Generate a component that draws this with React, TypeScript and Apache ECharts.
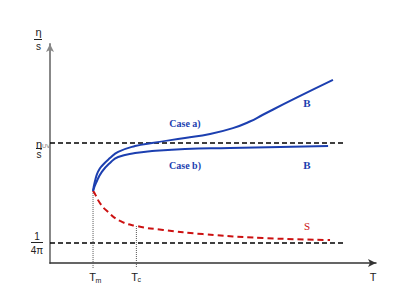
import React, { useEffect, useRef } from "react";
import * as echarts from "echarts";

// Abstract units: T from 0 to 100 (x), eta/s from 0 to 100 (y)
const Tm = 13.2;
const Tc = 26.5;
const etaUV = 54.8;
const kss = 9.1;
const lineEnd = 90.5;

const caseA: number[][] = [
  [13.2, 32.9], [13.8, 37.4], [14.7, 41.6], [15.9, 44.3], [18.4, 47.9],
  [20.9, 50.7], [26.1, 53.4], [31.3, 54.8], [41.4, 57.1], [49.1, 58.9],
  [56.1, 61.6], [61.3, 64.6], [65.3, 67.7], [75.8, 75.6], [86.8, 83.6],
];
const caseB: number[][] = [
  [13.2, 32.9], [14.1, 36.5], [15.9, 41.6], [18.4, 45.7], [20.9, 48.4],
  [26.1, 50.2], [31.3, 51.1], [41.4, 52.1], [55.2, 52.5], [70.6, 53.0],
  [85.3, 53.4],
];
const sCurve: number[][] = [
  [13.2, 32.9], [13.8, 31.5], [15.3, 27.4], [17.5, 23.7], [21.5, 19.2],
  [26.5, 16.9], [34.7, 15.1], [46.9, 13.2], [65.3, 11.4], [85.9, 10.5],
];

const BLUE = "#1c3fb0";
const RED = "#cc1111";
const INK = "#222222";
const SANS = "Liberation Sans, Arial, sans-serif";
const SERIF = "Liberation Serif, Times New Roman, serif";

export default function App() {
  const ref = useRef<HTMLDivElement>(null);
  useEffect(() => {
    if (!ref.current) return;
    const chart = echarts.init(ref.current, null, { renderer: "svg" });
    const txt = (text: string, x: number, y: number, font: string, fill: string, align = "center") => ({
      type: "text",
      x,
      y,
      silent: true,
      style: { text, font, fill, align, verticalAlign: "middle" },
      z: 10,
    });
    const bar = (x1: number, x2: number, y: number) => ({
      type: "line",
      silent: true,
      shape: { x1, y1: y, x2, y2: y },
      style: { stroke: INK, lineWidth: 1 },
      z: 10,
    });
    const curve = (data: number[][], color: string, type: any) => ({
      type: "line",
      data,
      showSymbol: false,
      smooth: 0.5,
      lineStyle: { color, width: 2, type },
    });
    chart.setOption({
      animation: false,
      grid: { left: 50, right: 24, top: 44, bottom: 37 },
      xAxis: {
        type: "value",
        min: 0,
        max: 100,
        axisLabel: { show: false },
        axisTick: { show: false },
        splitLine: { show: false },
        axisLine: {
          show: true,
          symbol: ["none", "arrow"],
          symbolSize: [6, 8],
          lineStyle: { color: "#333", width: 1.5 },
        },
      },
      yAxis: {
        type: "value",
        min: 0,
        max: 100,
        axisLabel: { show: false },
        axisTick: { show: false },
        splitLine: { show: false },
        axisLine: {
          show: true,
          symbol: ["none", "arrow"],
          symbolSize: [6, 8],
          lineStyle: { color: "#888", width: 2 },
        },
      },
      series: [
        {
          type: "line",
          data: [[0, etaUV], [lineEnd, etaUV]],
          showSymbol: false,
          lineStyle: { color: "#000", width: 1.4, type: [5, 3] },
        },
        {
          type: "line",
          data: [[0, kss], [lineEnd, kss]],
          showSymbol: false,
          lineStyle: { color: "#000", width: 1.4, type: [5, 3] },
        },
        {
          type: "line",
          data: [[Tm, sCurve[0][1]], [Tm, -2.3]],
          showSymbol: false,
          clip: false,
          lineStyle: { color: "#555", width: 1, type: [1, 1] },
        },
        {
          type: "line",
          data: [[Tc, sCurve[5][1]], [Tc, -2.3]],
          showSymbol: false,
          clip: false,
          lineStyle: { color: "#555", width: 1, type: [1, 1] },
        },
        curve(sCurve, RED, [6, 4]),
        curve(caseB, BLUE, "solid"),
        curve(caseA, BLUE, "solid"),
      ],
      graphic: [
        txt("η", 38.5, 32, `11px ${SANS}`, INK),
        bar(34, 42, 39.5),
        txt("s", 38.5, 46.5, `10px ${SANS}`, INK),
        txt("η", 39, 144, `11px ${SANS}`, INK),
        txt("UV", 42, 145.5, `6px ${SANS}`, "#777", "left"),
        bar(36, 42, 148.5),
        txt("s", 39, 154.5, `10px ${SANS}`, INK),
        txt("1", 37, 236, `10px ${SANS}`, INK),
        bar(31, 43, 242.5),
        txt("4π", 37, 250.5, `10px ${SANS}`, INK),
        txt("T", 92.5, 276.5, `11px ${SANS}`, INK),
        txt("m", 95.5, 280, `7px ${SANS}`, INK, "left"),
        txt("T", 134.5, 276.5, `11px ${SANS}`, INK),
        txt("c", 137.5, 279.5, `7px ${SANS}`, INK, "left"),
        txt("T", 373, 276.5, `11px ${SANS}`, INK),
        txt("Case a)", 185, 123, `bold 10px ${SERIF}`, BLUE),
        txt("Case b)", 185, 165, `bold 10px ${SERIF}`, BLUE),
        txt("B", 307, 103, `bold 11px ${SERIF}`, BLUE),
        txt("B", 307, 165, `bold 11px ${SERIF}`, BLUE),
        txt("S", 307, 226, `11px ${SERIF}`, RED),
      ],
    });
    return () => chart.dispose();
  }, []);
  return <div ref={ref} style={{ width: 400, height: 300, position: "absolute", left: 0, top: 0 }} />;
}
